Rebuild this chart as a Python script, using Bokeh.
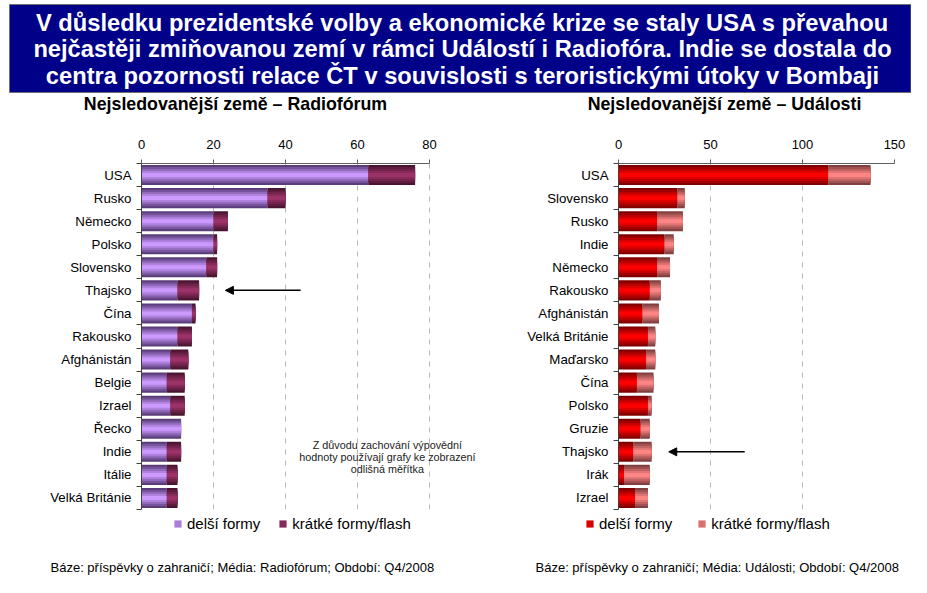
from bokeh.plotting import figure
from bokeh.models import (Range1d, FixedTicker, Legend, LegendItem, Label, Arrow,
                          NormalHead, ColumnDataSource)
from bokeh.layouts import column, row
from bokeh.embed import file_html
from bokeh.resources import INLINE
from bokeh.core.properties import value

# ---------------- data ----------------
title_lines = [
    "V důsledku prezidentské volby a ekonomické krize se staly USA s převahou",
    "nejčastěji zmiňovanou zemí v rámci Událostí i Radiofóra. Indie se dostala do",
    "centra pozornosti relace ČT v souvislosti s teroristickými útoky v Bombaji",
]
subtitle_rf = "Nejsledovanější země – Radiofórum"
subtitle_ud = "Nejsledovanější země – Události"
legend_labels = ["delší formy", "krátké formy/flash"]

countries_rf = ["USA", "Rusko", "Německo", "Polsko", "Slovensko", "Thajsko", "Čína",
                "Rakousko", "Afghánistán", "Belgie", "Izrael", "Řecko", "Indie",
                "Itálie", "Velká Británie"]
long_rf = [63, 35, 20, 20, 18, 10, 14, 10, 8, 7, 8, 11, 7, 7, 7]
short_rf = [13, 5, 4, 1, 3, 6, 1, 4, 5, 5, 4, 0, 4, 3, 3]
ticks_rf = [0, 20, 40, 60, 80]

countries_ud = ["USA", "Slovensko", "Rusko", "Indie", "Německo", "Rakousko", "Afghánistán",
                "Velká Británie", "Maďarsko", "Čína", "Polsko", "Gruzie", "Thajsko",
                "Irák", "Izrael"]
long_ud = [114, 32, 21, 25, 21, 17, 13, 16, 15, 10, 16, 12, 8, 3, 9]
short_ud = [23, 4, 14, 5, 7, 6, 9, 4, 5, 9, 2, 5, 10, 14, 7]
ticks_ud = [0, 50, 100, 150]

note_lines = ["Z důvodu zachování výpovědní",
              "hodnoty používají grafy ke zobrazení",
              "odlišná měřítka"]
footnote_rf = "Báze: příspěvky o zahraničí; Média: Radiofórum; Období: Q4/2008"
footnote_ud = "Báze: příspěvky o zahraničí; Média: Události; Období: Q4/2008"

FONT = "Liberation Sans"
W = 911


def mix(c1, c2, t):
    a = [int(c1[i:i + 2], 16) for i in (1, 3, 5)]
    b = [int(c2[i:i + 2], 16) for i in (1, 3, 5)]
    return "#%02x%02x%02x" % tuple(round(a[j] + (b[j] - a[j]) * t) for j in range(3))


def blank(width, height, xr, yr):
    p = figure(width=width, height=height, x_range=xr, y_range=yr,
               output_backend="svg", toolbar_location=None, min_border=0)
    p.axis.visible = False
    p.grid.visible = False
    p.outline_line_color = None
    p.background_fill_color = "white"
    p.border_fill_color = "white"
    return p


purple = ("#5a3d7a", "#cc99ff")
plum = ("#4a1430", "#9c3368")
red = ("#800000", "#ff0000")
pink = ("#804040", "#ff8585")

# ---------------- header ----------------
HH = 120
head = blank(W, HH, Range1d(0, W), Range1d(HH, 0))
head.quad(left=[9], right=[W - 0.5], top=[4], bottom=[92],
          fill_color="#000088", line_color="#707070", line_width=1)
head.text(x=[462] * 3, y=[22, 48, 75], text=title_lines, text_align="center",
          text_baseline="middle", text_color="white", text_font=value(FONT),
          text_font_style="bold", text_font_size="23.7px")
head.text(x=[235, 724], y=[103, 103], text=[subtitle_rf, subtitle_ud], text_align="center",
          text_baseline="middle", text_color="black", text_font=value(FONT),
          text_font_style="bold", text_font_size="17.8px")

# ---------------- charts ----------------
CH = 391
NL = 5


def chart(width, bl, br, countries, long_v, short_v, xmax, xbound, ticks, c_long, c_short):
    n = len(countries)
    ys = list(range(n))
    totals = [a + b for a, b in zip(long_v, short_v)]
    src = ColumnDataSource(dict(y=ys, long=long_v, total=totals))
    p = figure(width=width, height=CH, x_range=Range1d(0, xmax),
               y_range=Range1d(n - 0.5, -0.5), x_axis_location="above",
               output_backend="svg", toolbar_location=None,
               min_border_left=bl, min_border_right=br, min_border_top=43,
               min_border_bottom=2)
    p.outline_line_color = None
    p.background_fill_color = "white"
    p.border_fill_color = "white"
    p.ygrid.visible = False
    p.xgrid.ticker = FixedTicker(ticks=ticks)
    p.xgrid.grid_line_color = "#b8b8b8"
    p.xgrid.grid_line_dash = "5 6"

    for k in range(NL):
        h = 0.87 * (1 - k / NL)
        t = k / (NL - 1)
        p.hbar(y="y", left=0, right="long", height=h, source=src,
               fill_color=mix(c_long[0], c_long[1], t), line_color=None)
        p.hbar(y="y", left="long", right="total", height=h, source=src,
               fill_color=mix(c_short[0], c_short[1], t), line_color=None)

    xa = p.xaxis[0]
    xa.ticker = FixedTicker(ticks=ticks)
    xa.bounds = (0, xbound)
    xa.axis_line_color = "#606060"
    xa.major_tick_line_color = "#606060"
    xa.major_tick_out = 4
    xa.major_tick_in = 0
    xa.minor_tick_line_color = None
    xa.major_label_text_font = FONT
    xa.major_label_text_font_size = "13px"
    xa.major_label_text_color = "black"
    xa.major_label_standoff = 11

    ya = p.yaxis[0]
    ya.ticker = FixedTicker(ticks=ys, minor_ticks=[i - 0.5 for i in range(n + 1)])
    ya.major_label_overrides = {i: c for i, c in enumerate(countries)}
    ya.axis_line_color = "#404040"
    ya.major_tick_line_color = None
    ya.major_tick_out = 0
    ya.major_tick_in = 0
    ya.minor_tick_line_color = "#404040"
    ya.minor_tick_out = 5
    ya.minor_tick_in = 0
    ya.major_label_text_font = FONT
    ya.major_label_text_font_size = "13.3px"
    ya.major_label_text_color = "black"
    ya.major_label_standoff = 5
    return p


LW = 485
left = chart(LW, 141, 0, countries_rf, long_rf, short_rf, (LW - 141) / 3.6, 80, ticks_rf,
             purple, plum)
right = chart(W - LW, 133, 17, countries_ud, long_ud, short_ud, 150, 150, ticks_ud,
              red, pink)

# arrows
left.add_layout(Arrow(end=NormalHead(size=8, fill_color="black", line_color="black"),
                      x_start=44.2, y_start=5, x_end=23.3, y_end=5,
                      line_color="black", line_width=1.5))
right.add_layout(Arrow(end=NormalHead(size=8, fill_color="black", line_color="black"),
                       x_start=68.6, y_start=12, x_end=27.3, y_end=12,
                       line_color="black", line_width=1.5))

# note
for yv, txt in zip([11.72, 12.24, 12.76], note_lines):
    left.add_layout(Label(x=68.3, y=yv, text=txt, text_align="center",
                          text_baseline="middle", text_font=FONT,
                          text_font_size="10.8px", text_color="#222222"))

# ---------------- footer (legends + sources) ----------------
FH = 577 - HH - CH
foot = blank(W, FH, Range1d(0, W), Range1d(FH, 0))
foot.text(x=[50, 535], y=[56, 56], text=[footnote_rf, footnote_ud], text_align="left",
          text_baseline="middle", text_color="black", text_font=value(FONT),
          text_font_size="13px")


def legend_for(colors_long, colors_short, vx, spacing):
    r1 = foot.hbar(y=[0], left=[0], right=[0], height=0,
                   fill_color=mix(colors_long[0], colors_long[1], 0.7), line_color=None)
    r2 = foot.hbar(y=[0], left=[0], right=[0], height=0,
                   fill_color=mix(colors_short[0], colors_short[1], 0.7), line_color=None)
    lg = Legend(items=[LegendItem(label=legend_labels[0], renderers=[r1]),
                       LegendItem(label=legend_labels[1], renderers=[r2])],
                orientation="horizontal", location=(vx, FH - 21), spacing=spacing,
                glyph_width=9, glyph_height=9, label_standoff=5, padding=0, margin=0,
                border_line_color=None, background_fill_alpha=0,
                label_text_font=FONT, label_text_font_size="15px",
                label_text_color="black")
    foot.add_layout(lg)
    return lg


legend_for(purple, plum, 173, 18)
legend_for(red, pink, 585, 25)

page = column(head, row(left, right), foot)
open("out.html", "w").write(file_html(page, INLINE))
